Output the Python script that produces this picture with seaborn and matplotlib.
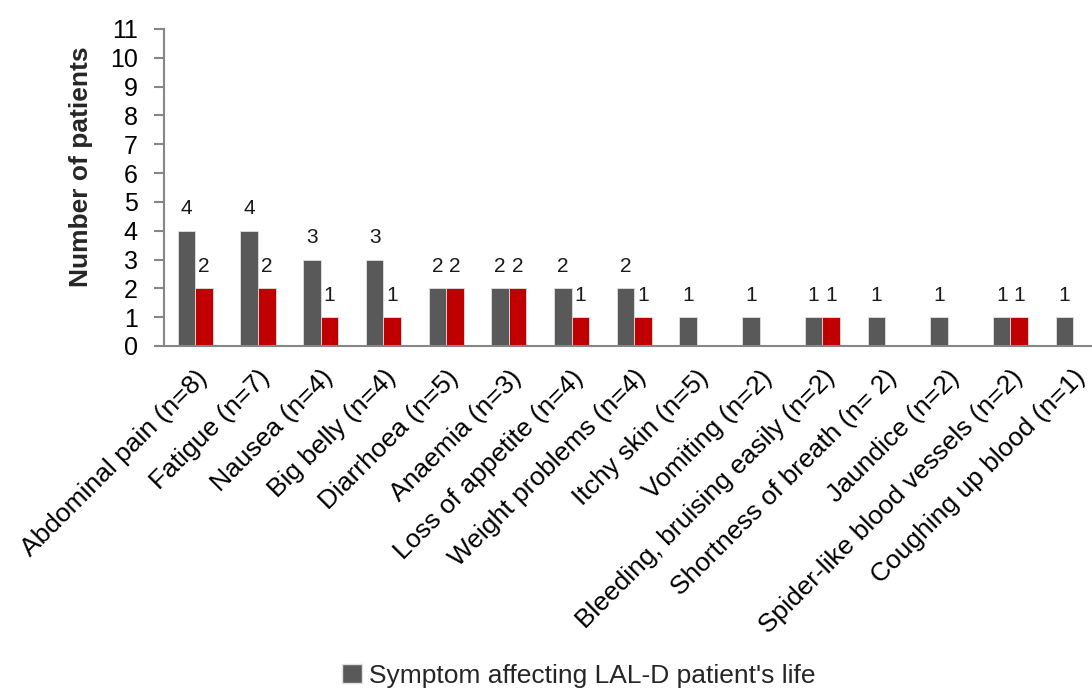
import pandas as pd
import matplotlib
matplotlib.use('Agg')
import matplotlib.pyplot as plt
from matplotlib.patches import Patch
import seaborn as sns

# symptoms and counts
symptoms = ['Abdominal pain (n=8)', 'Fatigue (n=7)', 'Nausea (n=4)', 'Big belly (n=4)',
            'Diarrhoea (n=5)', 'Anaemia (n=3)', 'Loss of appetite (n=4)', 'Weight problems (n=4)',
            'Itchy skin (n=5)', 'Vomiting (n=2)', 'Bleeding, bruising easily (n=2)',
            'Shortness of breath (n= 2)', 'Jaundice (n=2)', 'Spider-like blood vessels (n=2)',
            'Coughing up blood (n=1)']
affecting_life = [4, 4, 3, 3, 2, 2, 2, 2, 1, 1, 1, 1, 1, 1, 1]
most_affecting = [2, 2, 1, 1, 2, 2, 1, 1, 0, 0, 1, 0, 0, 1, 0]
series_names = ["Symptom affecting LAL-D patient's life", 'Most affecting symptom']

df = pd.DataFrame({
    'symptom': symptoms * 2,
    'count': affecting_life + most_affecting,
    'series': [series_names[0]] * len(symptoms) + [series_names[1]] * len(symptoms),
})

sns.set_style('white')
plt.rcParams['font.family'] = ['Liberation Sans', 'DejaVu Sans']

gray = '#595959'
red = '#c00000'
axis_col = '#868686'

fig = plt.figure(figsize=(10.92, 6.89), dpi=100)
ax = fig.add_axes([164 / 1092, 1 - 346 / 689, (1092 - 164) / 1092, (346 - 29) / 689])

sns.barplot(data=df, x='symptom', y='count', hue='series', palette=[gray, red],
            saturation=1, width=0.56, gap=0, edgecolor='#e0e0e0', linewidth=0.6,
            legend=False, ax=ax)

# value labels, skip the empty bars
for cont in ax.containers:
    labels = [str(int(v)) if v > 0 else '' for v in cont.datavalues]
    ax.bar_label(cont, labels=labels, padding=9, fontsize=15, color='#1a1a1a')

ax.set_ylim(0, 11)
ax.set_yticks(range(0, 12))
ax.set_xlim(-0.5, 14.3)

for s in ['top', 'right']:
    ax.spines[s].set_visible(False)
for s in ['left', 'bottom']:
    ax.spines[s].set_color(axis_col)
    ax.spines[s].set_linewidth(1.5)

ax.tick_params(axis='y', direction='out', length=7, width=1.5, color=axis_col,
               labelsize=18, labelcolor='black', pad=12, left=True)
ax.tick_params(axis='x', length=0, labelsize=19, labelcolor='black', pad=14)
plt.setp(ax.get_xticklabels(), rotation=45, ha='right', va='top', rotation_mode='anchor')

ax.set_xlabel('')
ax.set_ylabel('Number of patients', fontsize=19, fontweight='bold')
ax.yaxis.set_label_coords(-0.077, 0.565)

handles = [Patch(facecolor=gray, edgecolor='#e0e0e0')]
fig.legend(handles, [series_names[0]], loc='center', bbox_to_anchor=(0.53, 0.019),
           frameon=False, fontsize=19, handlelength=0.75, handleheight=0.75, handletextpad=0.25)

fig.savefig('out.png', dpi=100)
